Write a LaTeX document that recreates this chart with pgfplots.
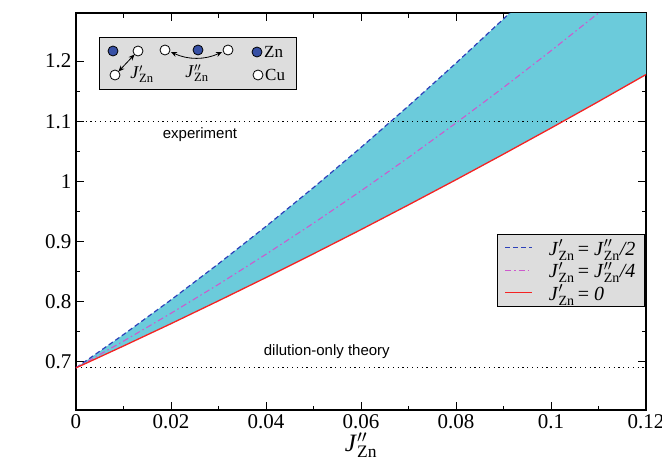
\documentclass[border=0pt]{standalone}
\usepackage{fontspec}
\setmainfont{Liberation Serif}
\newfontfamily\sansf{Liberation Sans}
\usepackage{pgfplots}
\pgfplotsset{compat=1.18}
\usepgfplotslibrary{fillbetween}
\usetikzlibrary{arrows.meta}

\definecolor{bandcyan}{RGB}{107,203,219}
\definecolor{dblue}{RGB}{45,65,185}
\definecolor{dmag}{RGB}{205,90,205}
\definecolor{dred}{RGB}{245,35,35}
\definecolor{zn}{RGB}{55,80,165}
\definecolor{boxgray}{RGB}{221,221,221}

\pgfplotsset{legend image code/.code={\draw[#1] (0pt,0.5pt) -- (27pt,0.5pt);}}

\newcommand{\Jp}{\textit{J}$'_{\mathrm{Zn}}$}
\newcommand{\Jpp}{\textit{J}$''_{\mathrm{Zn}}$}

\begin{document}
\begin{tikzpicture}[x=1pt,y=1pt]
\begin{axis}[
  at={(0,0)}, anchor=south west,
  scale only axis, width=570pt, height=397pt,
  xmin=0, xmax=0.12, ymin=0.62, ymax=1.28,
  xtick={0,0.02,0.04,0.06,0.08,0.1,0.12},
  ytick={0.7,0.8,0.9,1,1.1,1.2},
  minor x tick num=1, minor y tick num=1,
  tick align=inside,
  xtick pos=both, ytick pos=both,
  xticklabel pos=lower, yticklabel pos=left,
  major tick length=8pt, minor tick length=4.5pt,
  axis line style={line width=1.6pt},
  every tick/.style={black, line width=0.9pt},
  ticklabel style={font=\fontsize{21}{21}\selectfont},
  /pgf/number format/assume math mode=true,
  xticklabel style={/pgf/number format/fixed, /pgf/number format/precision=2, yshift=-1pt},
  yticklabel style={/pgf/number format/fixed, xshift=-1pt},
  xlabel={\textit{J}$''_{\mathrm{Zn}}$},
  xlabel style={font=\fontsize{25}{25}\selectfont, yshift=3pt},
  legend style={at={(axis description cs:0.998,0.443)}, anchor=north east,
    fill=boxgray, draw=black, line width=0.8pt,
    font=\fontsize{20}{20}\selectfont, inner xsep=7pt, inner ysep=3pt,
    row sep=1.5pt, column sep=14pt},
  legend cell align=left,
]
% bounding curves for the band
\addplot[draw=none, name path=upper, forget plot] coordinates {
 (0,0.690) (0.01,0.7454) (0.02,0.8031) (0.03,0.8631) (0.04,0.9253) (0.05,0.9898)
 (0.06,1.0565) (0.07,1.1255) (0.08,1.1967) (0.09,1.2702) (0.10,1.346) (0.11,1.424) (0.12,1.504)};
\addplot[draw=none, name path=lower, forget plot] coordinates {
 (0,0.690) (0.01,0.7264) (0.02,0.7635) (0.03,0.8015) (0.04,0.8402) (0.05,0.8797)
 (0.06,0.9199) (0.07,0.9610) (0.08,1.0028) (0.09,1.0454) (0.10,1.0887) (0.11,1.1328) (0.12,1.1777)};
\addplot[bandcyan, forget plot] fill between[of=upper and lower];
% reference lines
\addplot[black, line width=1pt, dash pattern=on 1.2pt off 3.6pt, forget plot] coordinates {(0,1.1) (0.12,1.1)};
\addplot[black, line width=1pt, dash pattern=on 1.2pt off 3.6pt, forget plot] coordinates {(0,0.69) (0.12,0.69)};
% curves
\addplot[dblue, line width=1.2pt, dash pattern=on 5pt off 3pt] coordinates {
 (0,0.690) (0.01,0.7454) (0.02,0.8031) (0.03,0.8631) (0.04,0.9253) (0.05,0.9898)
 (0.06,1.0565) (0.07,1.1255) (0.08,1.1967) (0.09,1.2702) (0.10,1.346) (0.11,1.424) (0.12,1.504)};
\addlegendentry{\Jp\,= \Jpp\textit{/2}}
\addplot[dmag, line width=1.1pt, dash pattern=on 6pt off 3pt on 1.5pt off 3pt] coordinates {
 (0,0.690) (0.01,0.7345) (0.02,0.7808) (0.03,0.8289) (0.04,0.8789) (0.05,0.9306)
 (0.06,0.9843) (0.07,1.0398) (0.08,1.0971) (0.09,1.1562) (0.10,1.2172) (0.11,1.2800) (0.12,1.3447)};
\addlegendentry{\Jp\,= \Jpp\textit{/4}}
\addplot[dred, line width=1.3pt] coordinates {
 (0,0.690) (0.01,0.7264) (0.02,0.7635) (0.03,0.8015) (0.04,0.8402) (0.05,0.8797)
 (0.06,0.9199) (0.07,0.9610) (0.08,1.0028) (0.09,1.0454) (0.10,1.0887) (0.11,1.1328) (0.12,1.1777)};
\addlegendentry{\Jp\,= \textit{0}}
% text annotations
\node[font=\sansf\fontsize{15}{15}\selectfont] at (axis cs:0.0261,1.078) {experiment};
\node[font=\sansf\fontsize{15}{15}\selectfont] at (axis cs:0.0528,0.717) {dilution-only theory};
\node[font=\fontsize{29}{29}\selectfont] at (axis description cs:-0.081,0.572) {\textit{R}$_{\mathit{0}}$};
\end{axis}
% inset lattice sketch (origin = lower-left corner of the axis box)
\draw[line width=0.8pt, fill=boxgray] (23,321) rectangle (220,373);
\begin{scope}[line width=0.8pt]
\draw[fill=zn] (37,359) circle (5);
\draw[fill=white] (62,359) circle (5);
\draw[fill=white] (89,360) circle (5);
\draw[fill=zn] (122,360) circle (5);
\draw[fill=white] (152,360) circle (5);
\draw[fill=zn] (181,358) circle (5);
\draw[fill=white] (39,335) circle (5);
\draw[fill=white] (182,335) circle (5);
\draw[{Stealth[length=6pt,width=5pt]}-{Stealth[length=6pt,width=5pt]}] (42.5,338.5) -- (58.5,355.5);
\draw[{Stealth[length=6pt,width=5pt]}-{Stealth[length=6pt,width=5pt]}] (95,358) .. controls (112,350) and (129,350) .. (146,358);
\end{scope}
\node[anchor=west, font=\fontsize{17}{17}\selectfont, inner sep=0pt] at (188,358) {Zn};
\node[anchor=west, font=\fontsize{17}{17}\selectfont, inner sep=0pt] at (189,335) {Cu};
\node[font=\fontsize{18}{18}\selectfont, inner sep=0pt] at (66,336) {\Jp};
\node[font=\fontsize{18}{18}\selectfont, inner sep=0pt] at (121,337) {\Jpp};
\pgfresetboundingbox
\path[use as bounding box] (-76,-49) rectangle (586,410);
\end{tikzpicture}
\end{document}
